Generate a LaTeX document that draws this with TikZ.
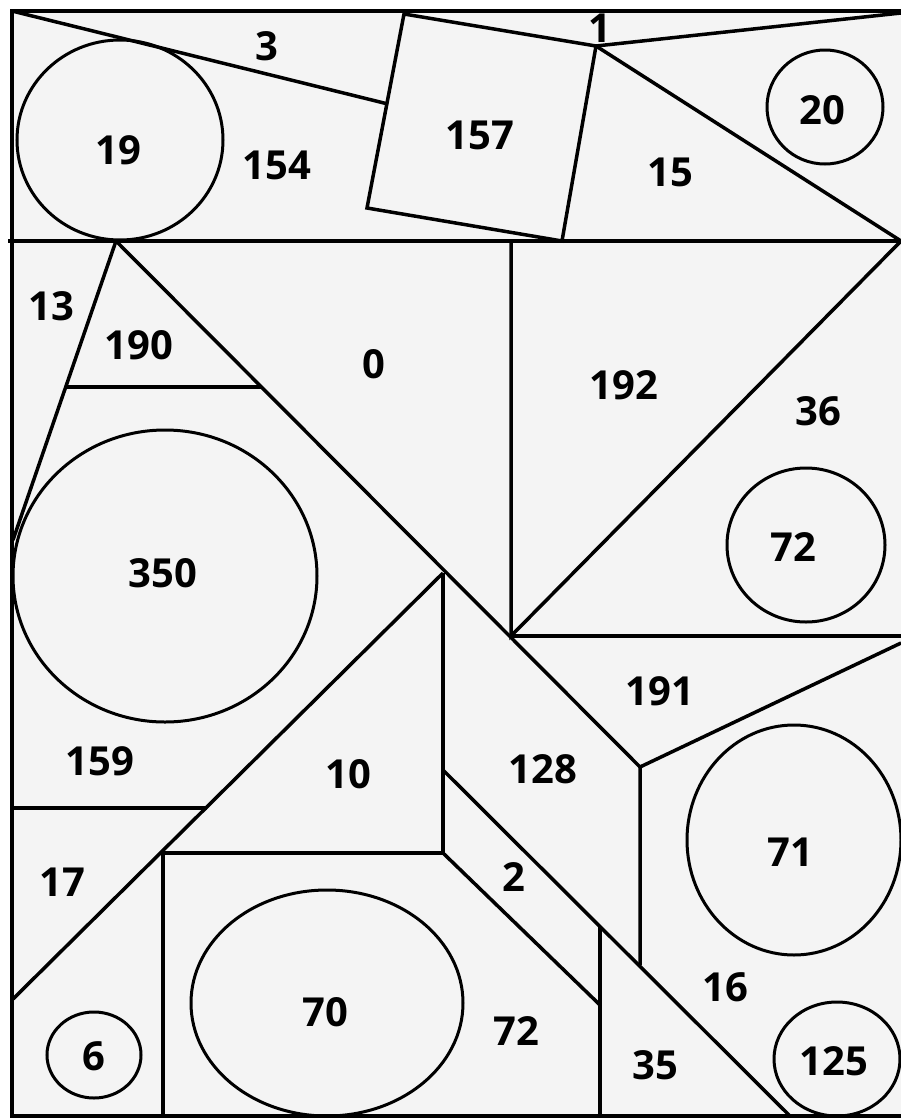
\documentclass[tikz,border=0pt]{standalone}
\usepackage{fontspec}
\setmainfont{Open Sans}
\definecolor{paper}{RGB}{244,244,244}

\begin{document}
\begin{tikzpicture}[
		x=1pt, y=-1pt,
		wall/.style={draw=black, line width=3.5pt, line join=miter},
		ring/.style={draw=black, line width=3pt},
		num/.style={font=\fontsize{40}{44}\selectfont\bfseries, inner sep=0pt}
		]
		
		\useasboundingbox (0,0) rectangle (901,1120);
		\fill[white] (0,0) rectangle (901,1120);
		\fill[paper] (12,11) rectangle (901,1116);
		
		% KEY POINTS
		\coordinate (apex) at (116,241);
		\coordinate (cross) at (443,573);
		\coordinate (sqA) at (404,14);
		\coordinate (sqB) at (596,46);
		\coordinate (sqC) at (562,241);
		\coordinate (sqD) at (367,208);
		\coordinate (midR) at (511,636);
		\coordinate (endQ) at (640,767);
		
		% FRAME
		\draw[wall] (901,11) -- (12,11) -- (12,1116) -- (901,1116);
		\draw[wall] (8,241) -- (901,241);
		
		% TOP STRIP
		\draw[wall] (12,11) -- (388,104);
		\draw[wall] (sqA) -- (sqB) -- (sqC) -- (sqD) -- cycle;
		\draw[wall] (sqB) -- (901,13);
		\draw[wall] (sqB) -- (901,241);
		
		% MIDDLE
		\draw[wall] (apex) -- (13,540);
		\draw[wall] (apex) -- (endQ);
		\draw[wall] (67,387) -- (261,387);
		\draw[wall] (511,241) -- (midR) -- (901,241);
		\draw[wall] (midR) -- (901,636);
		\draw[wall] (901,643) -- (endQ) -- (640,965);
		
		% BOTTOM
		\draw[wall] (cross) -- (12,1000);
		\draw[wall] (cross) -- (443,853) -- (163,853) -- (163,1116);
		\draw[wall] (12,808) -- (207,808);
		\draw[wall] (443,853) -- (600,1005);
		\draw[wall] (443,770) -- (790,1116);
		\draw[wall] (600,927) -- (600,1116);
		
		% CIRCLES
		\draw[ring] (120,140) ellipse [x radius=103, y radius=100];
		\draw[ring] (825,107) ellipse [x radius=58, y radius=57];
		\draw[ring] (165,576) ellipse [x radius=152, y radius=146];
		\draw[ring] (806,545) ellipse [x radius=79, y radius=77];
		\draw[ring] (794,840) ellipse [x radius=107, y radius=115];
		\draw[ring] (327,1003) ellipse [x radius=136, y radius=113];
		\draw[ring] (94,1055) ellipse [x radius=47, y radius=43];
		\draw[ring] (837,1059) ellipse [x radius=63, y radius=57];
		
		% LABELS
		\node[num] (n3) at (267,46) {3};
		\node[num] (n19) at (118,150) {19};
		\node[num] (n154) at (277,165) {154};
		\node[num] (n157) at (480,135) {157};
		\node[num] (n1) at (600,28) {1};
		\node[num] (n15) at (670,172) {15};
		\node[num] (n20) at (822,110) {20};
		\node[num] (n13) at (51,306) {13};
		\node[num] (n190) at (139,345) {190};
		\node[num] (n0) at (374,364) {0};
		\node[num] (n192) at (624,385) {192};
		\node[num] (n36) at (818,411) {36};
		\node[num] (n72a) at (793,547) {72};
		\node[num] (n350) at (163,573) {350};
		\node[num] (n191) at (660,691) {191};
		\node[num] (n159) at (100,761) {159};
		\node[num] (n10) at (348,774) {10};
		\node[num] (n128) at (543,769) {128};
		\node[num] (n71) at (790,852) {71};
		\node[num] (n2) at (514,877) {2};
		\node[num] (n17) at (62,882) {17};
		\node[num] (n16) at (725,987) {16};
		\node[num] (n70) at (325,1012) {70};
		\node[num] (n72b) at (516,1031) {72};
		\node[num] (n6) at (94,1056) {6};
		\node[num] (n35) at (655,1065) {35};
		\node[num] (n125) at (834,1061) {125};
		
	\end{tikzpicture}
\end{document}
